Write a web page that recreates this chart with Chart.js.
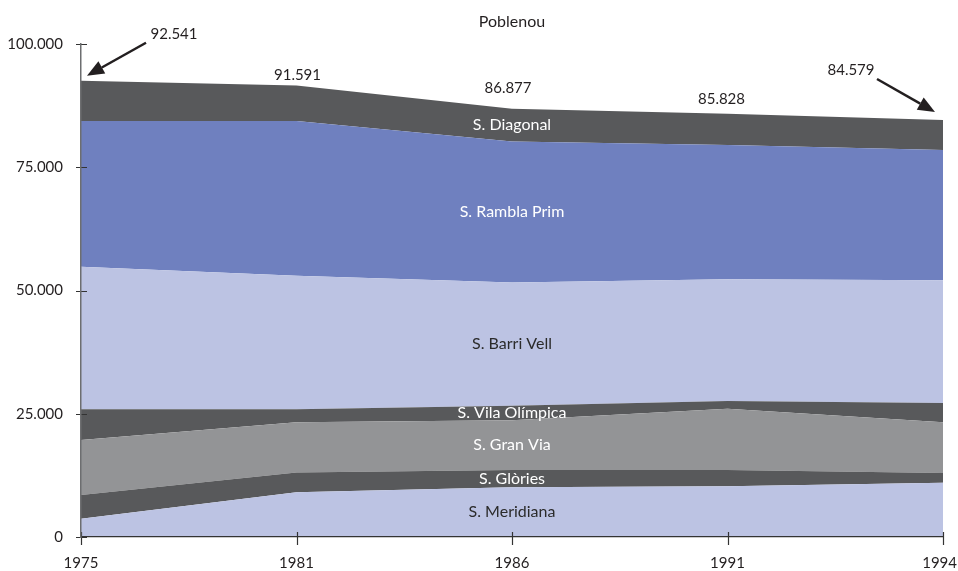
<!DOCTYPE html>
<html>
<head>
<meta charset="utf-8">
<script src="https://cdn.jsdelivr.net/npm/chart.js@4.4.1/dist/chart.umd.min.js"></script>
<style>
  html, body { margin: 0; padding: 0; background: #fff; }
  #wrap { width: 958px; height: 571px; }
</style>
</head>
<body>
<div id="wrap"><canvas id="chart"></canvas></div>
<script>
// Poblenou: residents per sector, stacked bottom to top
const years = ['1975', '1981', '1986', '1991', '1994'];
const meridiana = [3700, 9100, 10100, 10300, 11000];
const glories = [4800, 4000, 3500, 3300, 2000];
const granVia = [11200, 10200, 10100, 12400, 10300];
const vilaOlimpica = [6200, 2600, 2900, 1600, 3900];
const barriVell = [28900, 27100, 25000, 24700, 24900];
const ramblaPrim = [29600, 31400, 28600, 27200, 26400];
const diagonal = [8141, 7191, 6677, 6328, 6079];
const yTicks = [0, 25000, 50000, 75000, 100000];

const FONT = 'Lato, "Open Sans", sans-serif';
const DARK = '#58595b';
const MID = '#939496';
const BLUE = '#6f80bf';
const PALE = '#bcc3e3';

const fmt = n => String(n).replace(/\B(?=(\d{3})+(?!\d))/g, '.');

function series(label, data, color, textColor, fill) {
  return {
    label,
    data,
    backgroundColor: color,
    borderWidth: 0,
    pointRadius: 0,
    tension: 0,
    fill,
    textColor,
  };
}

const datasets = [
  series('S. Meridiana', meridiana, PALE, '#2b2b2b', 'origin'),
  series('S. Glòries', glories, DARK, '#ffffff', '-1'),
  series('S. Gran Via', granVia, MID, '#ffffff', '-1'),
  series('S. Vila Olímpica', vilaOlimpica, DARK, '#ffffff', '-1'),
  series('S. Barri Vell', barriVell, PALE, '#2b2b2b', '-1'),
  series('S. Rambla Prim', ramblaPrim, BLUE, '#ffffff', '-1'),
  series('S. Diagonal', diagonal, DARK, '#ffffff', '-1'),
];

// title centred over the plot area
const titlePlugin = {
  id: 'plotTitle',
  afterDraw(chart) {
    const { ctx, chartArea } = chart;
    ctx.save();
    ctx.font = '16px ' + FONT;
    ctx.fillStyle = '#231f20';
    ctx.textAlign = 'center';
    ctx.textBaseline = 'middle';
    ctx.fillText('Poblenou', (chartArea.left + chartArea.right) / 2, 22);
    ctx.restore();
  },
};

// year labels under the x axis; the last one is kept inside the canvas
const yearLabelPlugin = {
  id: 'yearLabels',
  afterDraw(chart) {
    const { ctx, chartArea, width } = chart;
    const xs = chart.scales.x;
    ctx.save();
    ctx.font = '15px ' + FONT;
    ctx.fillStyle = '#231f20';
    ctx.textAlign = 'center';
    ctx.textBaseline = 'middle';
    years.forEach((yr, i) => {
      const half = ctx.measureText(yr).width / 2;
      const x = Math.min(xs.getPixelForValue(i), width - half - 1);
      ctx.fillText(yr, x, chartArea.bottom + 26);
    });
    ctx.restore();
  },
};

// sector names, placed in the middle of each band at one column
const bandLabelPlugin = {
  id: 'bandLabels',
  afterDatasetsDraw(chart, args, opts) {
    const { ctx } = chart;
    const idx = opts.index;
    const zero = chart.scales.y.getPixelForValue(0);
    ctx.save();
    ctx.font = '16px ' + FONT;
    ctx.textAlign = 'center';
    ctx.textBaseline = 'middle';
    let below = zero;
    chart.data.datasets.forEach((ds, i) => {
      const pt = chart.getDatasetMeta(i).data[idx];
      const mid = (pt.y + below) / 2;
      ctx.fillStyle = ds.textColor;
      ctx.fillText(ds.label, pt.x, mid);
      below = pt.y;
    });
    ctx.restore();
  },
};

function drawArrow(ctx, x1, y1, x2, y2) {
  const ang = Math.atan2(y2 - y1, x2 - x1);
  const head = 17;
  const half = 7;
  const bx = x2 - Math.cos(ang) * head;
  const by = y2 - Math.sin(ang) * head;
  ctx.beginPath();
  ctx.moveTo(x1, y1);
  ctx.lineTo(bx, by);
  ctx.stroke();
  ctx.beginPath();
  ctx.moveTo(x2, y2);
  ctx.lineTo(bx + Math.sin(ang) * half, by - Math.cos(ang) * half);
  ctx.lineTo(bx - Math.sin(ang) * half, by + Math.cos(ang) * half);
  ctx.closePath();
  ctx.fill();
}

// stack totals above each year, with arrows at both ends
const totalsPlugin = {
  id: 'stackTotals',
  afterDatasetsDraw(chart, args, opts) {
    const { ctx } = chart;
    const xs = chart.scales.x;
    const ys = chart.scales.y;
    ctx.save();
    ctx.font = '15px ' + FONT;
    ctx.fillStyle = '#231f20';
    ctx.strokeStyle = '#231f20';
    ctx.lineWidth = 2.5;
    ctx.textAlign = 'center';
    ctx.textBaseline = 'middle';
    years.forEach((yr, i) => {
      const total = chart.data.datasets.reduce((s, ds) => s + ds.data[i], 0);
      const px = xs.getPixelForValue(i);
      const py = ys.getPixelForValue(total);
      const o = opts.offsets[i];
      ctx.fillText(fmt(total), px + o.label[0], py + o.label[1]);
      if (o.tail) {
        drawArrow(ctx, px + o.tail[0], py + o.tail[1], px + o.tip[0], py + o.tip[1]);
      }
    });
    ctx.restore();
  },
};

// tick marks that cross the axis lines
const crossTicksPlugin = {
  id: 'crossTicks',
  afterDatasetsDraw(chart) {
    const { ctx, chartArea } = chart;
    const xs = chart.scales.x;
    const ys = chart.scales.y;
    ctx.save();
    ctx.strokeStyle = '#333333';
    ctx.lineWidth = 1.2;
    ctx.beginPath();
    ys.ticks.forEach(t => {
      const y = Math.round(ys.getPixelForValue(t.value)) + 0.5;
      ctx.moveTo(chartArea.left - 5, y);
      ctx.lineTo(chartArea.left + 6, y);
    });
    years.forEach((yr, i) => {
      const x = Math.round(xs.getPixelForValue(i)) + 0.5;
      ctx.moveTo(x, chartArea.bottom - 5);
      ctx.lineTo(x, chartArea.bottom + 8);
    });
    ctx.stroke();
    ctx.restore();
  },
};

new Chart(document.getElementById('chart'), {
  type: 'line',
  data: { labels: years, datasets },
  plugins: [titlePlugin, yearLabelPlugin, bandLabelPlugin, totalsPlugin, crossTicksPlugin],
  options: {
    responsive: true,
    maintainAspectRatio: false,
    animation: false,
    layout: { padding: { top: 44, right: 15, left: 0, bottom: 0 } },
    plugins: {
      legend: { display: false },
      tooltip: { enabled: false },
      bandLabels: { index: 2 },
      stackTotals: {
        offsets: [
          { label: [93, -47], tail: [65, -38], tip: [6, -5] },
          { label: [1, -10] },
          { label: [-4, -21] },
          { label: [-6, -15] },
          { label: [-92, -50], tail: [-66, -41], tip: [-8, -8] },
        ],
      },
    },
    scales: {
      x: {
        offset: false,
        grid: { display: false },
        border: { display: true, color: '#333333', width: 1.2, z: 1 },
        ticks: { display: false },
        afterFit(scale) {
          scale.height = 34;
          scale.paddingLeft = 0;
          scale.paddingRight = 0;
        },
      },
      y: {
        stacked: true,
        min: 0,
        max: 100000,
        grid: { display: false },
        border: { display: true, color: '#6d6e70', width: 1.5, z: 1 },
        ticks: {
          padding: 10,
          color: '#231f20',
          font: { family: FONT, size: 15 },
          callback: v => fmt(v),
        },
        afterBuildTicks(scale) {
          scale.ticks = yTicks.map(v => ({ value: v }));
        },
        afterFit(scale) {
          scale.width = 81;
        },
      },
    },
  },
});
</script>
</body>
</html>
